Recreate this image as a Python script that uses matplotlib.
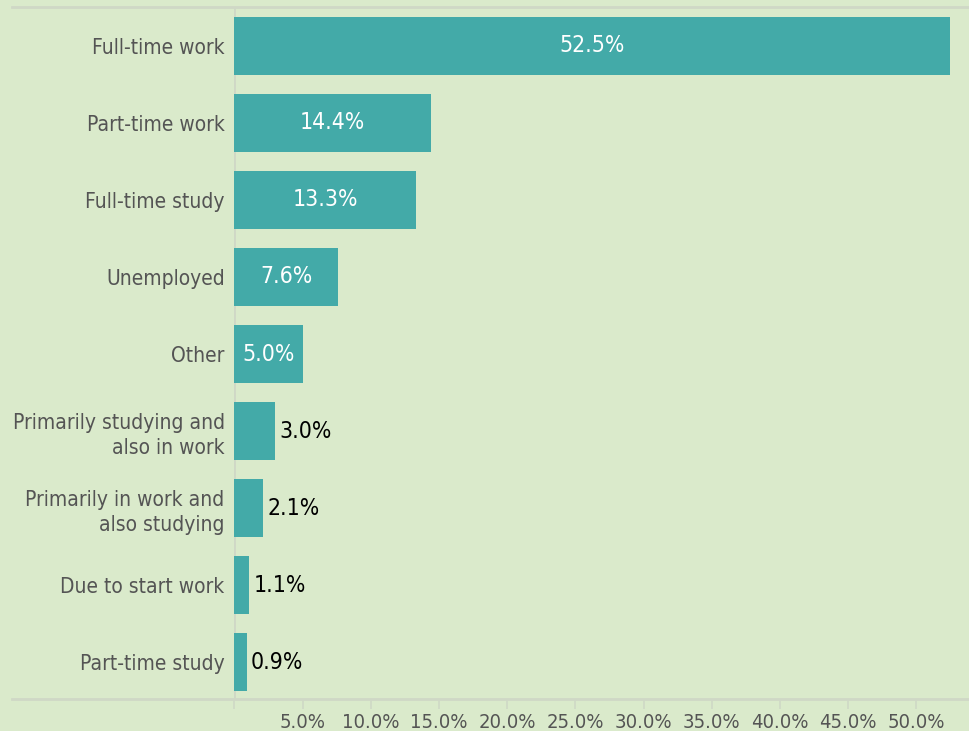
import matplotlib
matplotlib.use("Agg")
import matplotlib.pyplot as plt
from matplotlib.lines import Line2D
from matplotlib import font_manager

# ============================
# DATA
# ============================
categories = [
    "Full-time work",
    "Part-time work",
    "Full-time study",
    "Unemployed",
    "Other",
    "Primarily studying and\nalso in work",
    "Primarily in work and\nalso studying",
    "Due to start work",
    "Part-time study",
]
shares = [52.5, 14.4, 13.3, 7.6, 5.0, 3.0, 2.1, 1.1, 0.9]
tick_values = [5, 10, 15, 20, 25, 30, 35, 40, 45, 50]

# ============================
# STYLE
# ============================
BG = "#DAEACB"
BAR = "#43AAA8"
LABEL_GREY = "#545454"
RULE = "#CFD8C6"

# narrow face if one is installed
names = {f.name for f in font_manager.fontManager.ttflist}
cond = [f for f in font_manager.fontManager.ttflist
        if f.name == "DejaVu Sans" and f.stretch == "condensed" and f.weight == 400
        and f.style == "normal"]
if "Liberation Sans Narrow" in names:
    FP = dict(family="Liberation Sans Narrow")
elif cond:
    FP = dict(family="DejaVu Sans", stretch="condensed")
else:
    FP = dict(family="Roboto")

plt.rcParams["font.family"] = FP["family"]
if "stretch" in FP:
    plt.rcParams["font.stretch"] = FP["stretch"]

fig = plt.figure(figsize=(9.7, 7.31), dpi=100, facecolor=BG)
W, H = 970, 731
ax_left = 234.4 / W
ax_top, ax_bottom = 1 - 7 / H, 1 - 699 / H
ax = fig.add_axes([ax_left, ax_bottom, 1.0 - ax_left, ax_top - ax_bottom])
ax.set_facecolor(BG)

y_pos = list(range(len(categories)))
bars = ax.barh(y_pos, shares, height=0.75, color=BAR, zorder=2)

ax.set_ylim(8.48, -0.506)
ax.set_xlim(0, (W - 234.4) / 13.64)

for spine in ax.spines.values():
    spine.set_visible(False)
ax.axvline(0, color=RULE, lw=2, zorder=1)

ax.set_yticks(y_pos)
ax.set_yticklabels(categories, fontsize=15, color=LABEL_GREY,
                   multialignment="right", linespacing=1.3)
ax.tick_params(axis="y", length=0, pad=7)

ax.set_xticks([0] + tick_values)
ax.set_xticklabels([""] + [f"{v:.1f}%" for v in tick_values])
ax.tick_params(axis="x", length=7, width=1.2, color=RULE, pad=3,
               labelsize=14.5, labelcolor=LABEL_GREY)

# full-width rules above and below the plot area
for yy in (ax_top, ax_bottom):
    fig.add_artist(Line2D([12 / W, 1.0], [yy, yy], transform=fig.transFigure,
                          color=RULE, lw=2))

# value labels: inside for wide bars, just past the end for narrow ones
for bar, val in zip(bars, shares):
    yc = bar.get_y() + bar.get_height() / 2
    if val >= 5:
        ax.text(val / 2, yc, f"{val:.1f}%", ha="center", va="center",
                color="white", fontsize=16.5, zorder=3)
    else:
        ax.text(val + 0.3, yc, f"{val:.1f}%", ha="left", va="center",
                color="black", fontsize=16.5, zorder=3)

fig.savefig("out.png", dpi=100, facecolor=BG)
